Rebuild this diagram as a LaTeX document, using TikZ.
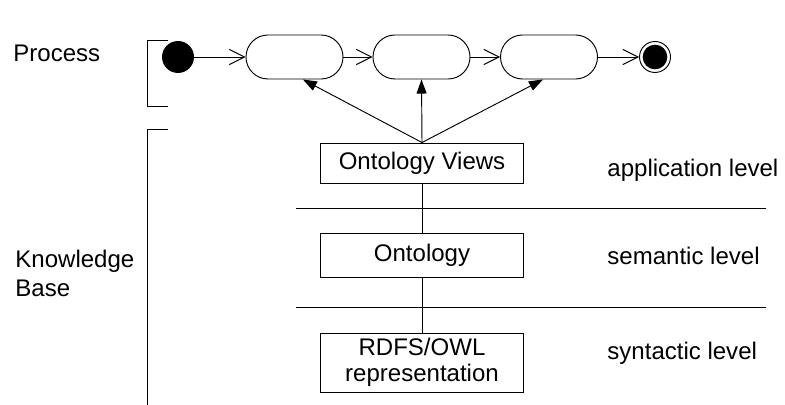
\documentclass[tikz,border=0pt]{standalone}
\usepackage{fontspec}
\setmainfont{Liberation Sans}
\usetikzlibrary{arrows.meta}

\tikzset{
  every node/.style={font=\fontsize{20.5}{25.5}\selectfont},
  state/.style={draw, rectangle, rounded corners=0.66cm, minimum width=2.91cm, minimum height=1.32cm, inner sep=0pt},
  levelbox/.style={draw, rectangle, minimum width=6.1cm, inner sep=0pt, align=center},
  flow/.style={-{Straight Barb[length=13pt,width=13pt]}},
  view/.style={-{Triangle[length=12pt,width=8.5pt]}},
  label/.style={anchor=base west, inner sep=0pt, align=left}
}

\begin{document}
\begin{tikzpicture}[x=0.03cm, y=-0.03cm, line width=0.8pt]
\useasboundingbox (0,0) rectangle (785,405);

% process
\node[label] (proc) at (13,62) {Process};
\draw (168,40) -- (147,40) -- (147,106) -- (168,106);
\node[draw, circle, fill=black, minimum size=0.93cm, inner sep=0pt] (start) at (178,57) {};
\node[state] (s1) at (294.5,57) {};
\node[state] (s2) at (421.5,57) {};
\node[state] (s3) at (549,57) {};
\node[draw, circle, minimum size=0.93cm, inner sep=0pt] (fin) at (655,57) {};
\fill (fin.center) circle (0.37cm);
\draw[flow] (start) -- (s1);
\draw[flow] (s1) -- (s2);
\draw[flow] (s2) -- (s3);
\draw[flow] (s3) -- (fin);

% knowledge base
\node[label] (kb) at (15,297) {Knowledge\\Base};
\draw (168,129) -- (147,129) -- (147,405);
\draw (296,208) -- (766,208);
\draw (296,307) -- (766,307);
\node[levelbox, minimum height=1.2cm] (ov) at (422,163) {Ontology Views};
\node[levelbox, minimum height=1.32cm] (ont) at (422,255) {Ontology};
\node[levelbox, minimum height=1.77cm, font=\fontsize{20.5}{22}\selectfont] (rdfs) at (422,362.5) {RDFS/OWL\\representation};
\draw (ov) -- (ont);
\draw (ont) -- (rdfs);
\draw[view] (ov.north) -- ([xshift=0.25cm]s1.south);
\draw[view] (ov.north) -- (s2.south);
\draw[view] (ov.north) -- ([xshift=-0.18cm]s3.south);

\node[label] (app) at (607,177) {application level};
\node[label] (sem) at (607,265) {semantic level};
\node[label] (syn) at (607,360) {syntactic level};
\end{tikzpicture}
\end{document}
